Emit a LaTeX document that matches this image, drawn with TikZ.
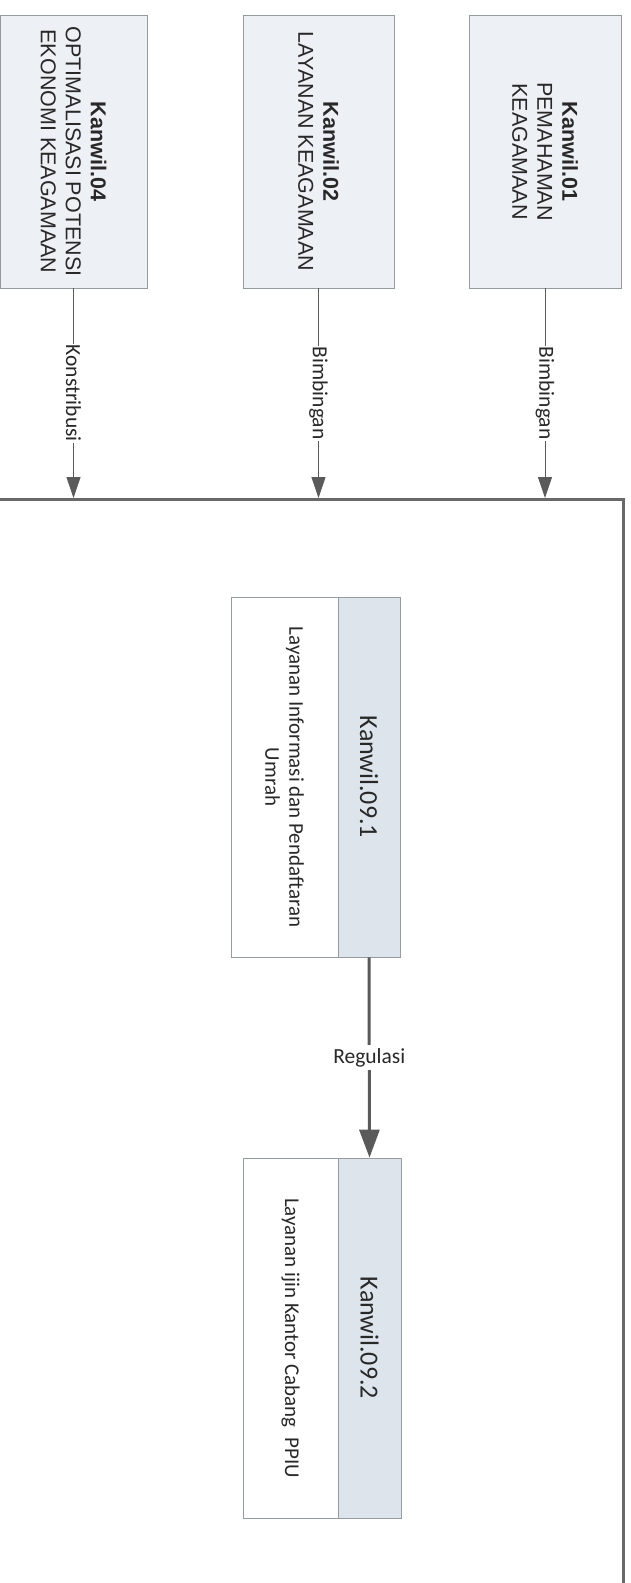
\documentclass[tikz,border=0pt]{standalone}
\usepackage{fontspec}
\newfontfamily\arialf{Liberation Sans}
\newfontfamily\calf{Carlito}
\usetikzlibrary{arrows.meta}
\definecolor{topfill}{RGB}{237,241,245}
\definecolor{headfill}{RGB}{221,228,235}
\definecolor{boxline}{RGB}{150,155,160}
\definecolor{txt}{RGB}{40,40,40}
\definecolor{conn}{RGB}{90,90,90}
\definecolor{contline}{RGB}{105,105,105}
\tikzset{
  topbox/.style={draw=boxline, fill=topfill, line width=0.8pt, rotate=-90, align=center,
    text=txt, font=\arialf\fontsize{21.5}{25}\selectfont, inner sep=0pt,
    minimum width=273pt},
  headbox/.style={draw=boxline, fill=headfill, line width=0.8pt, rotate=-90, align=center,
    text=txt, font=\calf\fontsize{26}{30}\selectfont, inner sep=0pt, minimum width=360pt},
  bodybox/.style={draw=boxline, fill=white, line width=0.8pt, rotate=-90, align=center,
    text=txt, font=\calf\fontsize{21}{24}\selectfont, inner sep=0pt, minimum width=360pt},
  container/.style={draw=contline, line width=2.6pt, inner sep=0pt},
  thinarrow/.style={draw=conn, line width=0.9pt, -{Triangle[length=21pt,width=14pt]}},
  thickarrow/.style={draw=conn, line width=3pt, -{Triangle[length=28pt,width=20pt]}},
  vlabel/.style={rotate=-90, fill=white, inner sep=1pt, text=txt,
    font=\calf\fontsize{21.5}{24}\selectfont},
  hlabel/.style={fill=white, inner sep=3pt, text=txt, font=\calf\fontsize{21.5}{24}\selectfont}
}
\begin{document}
\begin{tikzpicture}[x=1pt,y=-1pt]
\useasboundingbox (0,0) rectangle (630,1583);
\clip (0,0) rectangle (630,1583);
\fill[white] (0,0) rectangle (630,1583);

% container (its left and bottom sides lie outside the picture)
\node[container, minimum width=632pt, minimum height=1120pt, anchor=north west] (cont) at (-10,498) {};

% top boxes
\node[topbox, minimum height=147pt] (k04) at (73.5,151.5)
  {\textbf{Kanwil.04}\\OPTIMALISASI POTENSI\\EKONOMI KEAGAMAAN};
\node[topbox, minimum height=151pt] (k02) at (318.5,151.5)
  {\textbf{Kanwil.02}\\LAYANAN KEAGAMAAN};
\node[topbox, minimum height=152pt] (k01) at (545,151.5)
  {\textbf{Kanwil.01}\\PEMAHAMAN\\KEAGAMAAN};

% connectors to container
\draw[thinarrow] (k04.east) -- node[vlabel] {Konstribusi} (k04.east |- cont.north);
\draw[thinarrow] (k02.east) -- node[vlabel] {Bimbingan} (k02.east |- cont.north);
\draw[thinarrow] (k01.east) -- node[vlabel] {Bimbingan} (k01.east |- cont.north);

% inner boxes
\node[bodybox, minimum height=107pt] (body1) at (284.5,777)
  {Layanan Informasi dan Pendaftaran\\Umrah};
\node[headbox, minimum height=62pt] (head1) at (369,777) {Kanwil.09.1};

\node[bodybox, minimum height=95pt] (body2) at (290.5,1338)
  {Layanan ijin Kantor Cabang\ \ PPIU};
\node[headbox, minimum height=63pt] (head2) at (369.5,1338) {Kanwil.09.2};

\draw[thickarrow] (head1.east) -- node[hlabel] {Regulasi} (head2.west);
\end{tikzpicture}
\end{document}
